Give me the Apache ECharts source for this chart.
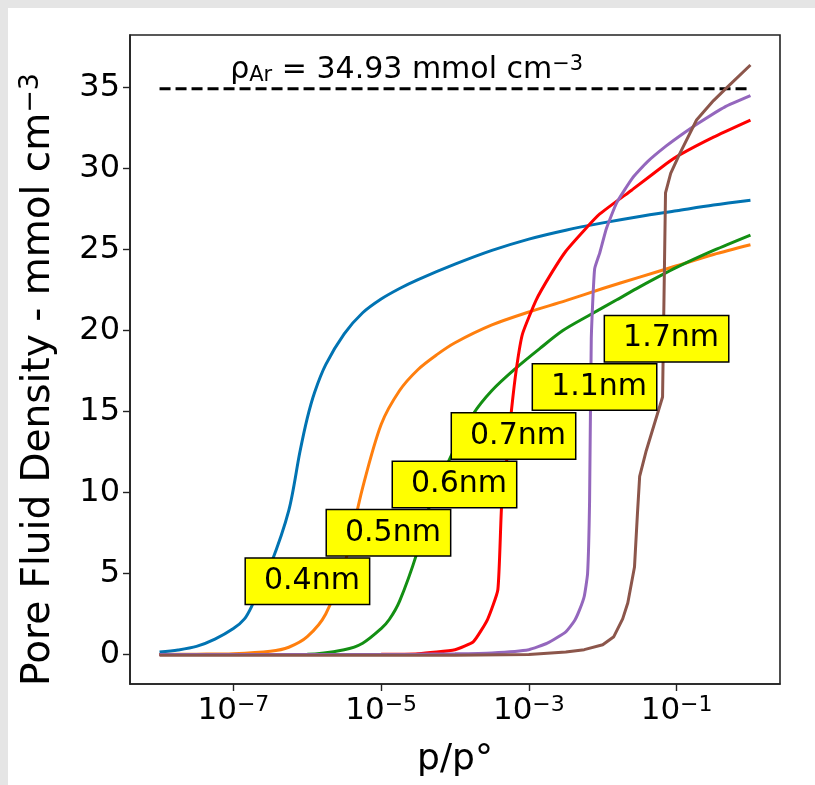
<!DOCTYPE html>
<html>
<head>
<meta charset="UTF-8">
<title>Pore Fluid Density</title>
<script src="https://cdn.jsdelivr.net/npm/echarts@6/dist/echarts.min.js"></script>
<style type="text/css">
	html, body { margin: 0; padding: 0; background: #e5e5e5; }
	#main { position: absolute; left: 8px; top: 8px; width: 807px; height: 777px; background: #fff; }
</style>
</head>
<body>
<div id="main"></div>
<script type="text/javascript">
	// x values are stored as log10(p/p°), y values in mmol cm-3
	var exp04 = [-8, -7.75, -7.5, -7.25, -7, -6.85, -6.75, -6.5, -6.25, -6.1, -6, -5.9, -5.75, -5.5, -5.25, -5, -4.75, -4.5, -4, -3.5, -3, -2.5, -2, -1.5, -1, -0.5, 0]
	var rho04 = [0.15, 0.28, 0.5, 0.95, 1.6, 2.2, 3.0, 5.5, 8.9, 12.5, 14.6, 16.2, 17.9, 19.8, 21.1, 21.95, 22.6, 23.15, 24.1, 24.95, 25.65, 26.2, 26.65, 27.05, 27.4, 27.75, 28.05]

	var exp05 = [-8, -7.5, -7, -6.5, -6.25, -6, -5.75, -5.5, -5.25, -5, -4.75, -4.5, -4.25, -4, -3.5, -3, -2.5, -2, -1.5, -1, -0.5, 0]
	var rho05 = [0, 0.02, 0.05, 0.2, 0.45, 1.1, 2.5, 5.5, 10.3, 14.2, 16.3, 17.6, 18.5, 19.25, 20.35, 21.15, 21.85, 22.6, 23.3, 24.0, 24.7, 25.3]

	var exp06 = [-8, -6, -5.5, -5.25, -5, -4.89, -4.75, -4.52, -4.35, -4.07, -3.76, -3.5, -3.17, -2.85, -2.54, -2.2, -1.81, -1.5, -1, -0.5, 0]
	var rho06 = [0, 0.02, 0.3, 0.7, 1.6, 2.16, 3.3, 6.2, 9.1, 12.1, 14.8, 16.3, 17.7, 18.9, 20.0, 20.9, 21.9, 22.7, 23.9, 24.95, 25.9]

	var exp07 = [-8, -5, -4.5, -4, -3.75, -3.56, -3.42, -3.37, -3.3, -3.235, -3.167, -3.086, -2.9, -2.7, -2.5, -2.25, -2.04, -1.6, -1.14, -0.96, -0.5, 0]
	var rho07 = [0, 0.01, 0.05, 0.3, 0.8, 2.16, 4.0, 9.1, 12.0, 15.1, 17.7, 19.8, 21.9, 23.5, 24.9, 26.2, 27.2, 28.7, 30.3, 30.85, 31.95, 33.0]

	var exp11 = [-8, -6, -4.5, -4, -3.5, -3, -2.75, -2.5, -2.38, -2.31, -2.25, -2.205, -2.178, -2.155, -2.11, -2.04, -1.95, -1.81, -1.6, -1.4, -1.14, -0.9, -0.69, -0.35, 0]
	var rho11 = [0, 0, 0.02, 0.04, 0.1, 0.3, 0.7, 1.4, 2.1, 2.8, 3.6, 5.0, 9.5, 19.5, 23.8, 24.8, 26.3, 27.9, 29.4, 30.4, 31.4, 32.2, 32.85, 33.8, 34.5]

	var exp17 = [-8, -4, -3, -2.5, -2.25, -2, -1.85, -1.73, -1.66, -1.57, -1.53, -1.5, -1.41, -1.19, -1.15, -1.08, -0.96, -0.73, -0.5, -0.32, 0]
	var rho17 = [-0.05, -0.05, 0, 0.15, 0.3, 0.6, 1.1, 2.2, 3.2, 5.4, 8.7, 11.0, 12.6, 15.9, 28.5, 29.7, 30.9, 33.0, 34.2, 35.0, 36.4]

	var seriesNames = ['0.4nm', '0.5nm', '0.6nm', '0.7nm', '1.1nm', '1.7nm']
	var seriesColors = ['#0173b2', '#ff7f0e', '#138f13', '#ff0000', '#9467bd', '#8c564b']
	var seriesExp = [exp04, exp05, exp06, exp07, exp11, exp17]
	var seriesRho = [rho04, rho05, rho06, rho07, rho11, rho17]
	var seriesSmooth = [0.3, 0.3, 0.3, 0.15, 0.15, 0]

	// label boxes: left edge (log10 p/p°) and vertical centre (mmol cm-3)
	var labelExp = [-6.837, -5.74, -4.846, -4.047, -2.95, -1.975]
	var labelRho = [4.53, 7.52, 10.5, 13.49, 16.51, 19.5]

	var bulkRho = 34.93
	var bulkExp = [-8, 0]
	var bulkTextPos = [-7.05, 36.1]

	var xTicks = [-7, -5, -3, -1]
	var yTicks = [0, 5, 10, 15, 20, 25, 30, 35]

	function p(e) { return Math.pow(10, e) }

	var font = 'DejaVu Sans'
	var series = []

	series.push({
		type: 'line',
		data: bulkExp.map(function (e) { return [p(e), bulkRho] }),
		symbol: 'none',
		lineStyle: { color: '#000', width: 3, type: [11, 5] },
		silent: true,
		z: 1
	})

	seriesNames.forEach(function (name, i) {
		series.push({
			name: name,
			type: 'line',
			data: seriesExp[i].map(function (e, j) { return [p(e), seriesRho[i][j]] }),
			symbol: 'none',
			smooth: seriesSmooth[i],
			lineStyle: { color: seriesColors[i], width: 3 },
			silent: true,
			z: 2 + i
		})
	})

	series.push({
		type: 'scatter',
		symbolSize: 1,
		itemStyle: { color: 'rgba(0,0,0,0)', opacity: 1 },
		silent: true,
		z: 20,
		data: seriesNames.map(function (name, i) {
			return { name: name, value: [p(labelExp[i]), labelRho[i]] }
		}),
		label: {
			show: true,
			position: 'right',
			distance: 0,
			formatter: '{b}',
			fontFamily: font,
			fontSize: 30,
			lineHeight: 31,
			color: '#000',
			backgroundColor: '#ffff00',
			borderColor: '#000',
			borderWidth: 1.5,
			padding: [7, 9, 7, 18]
		}
	})

	series.push({
		type: 'scatter',
		symbolSize: 1,
		itemStyle: { color: 'rgba(0,0,0,0)', opacity: 1 },
		silent: true,
		z: 21,
		data: [{ value: [p(bulkTextPos[0]), bulkTextPos[1]] }],
		label: {
			show: true,
			position: 'right',
			distance: 0,
			formatter: '{g|ρ}{sub|Ar}{t| = ' + bulkRho + ' mmol cm}{sup|−3}',
			rich: {
				g: { fontFamily: font, fontSize: 30, color: '#000', lineHeight: 32 },
				sub: { fontFamily: font, fontSize: 21, color: '#000', verticalAlign: 'bottom', lineHeight: 22 },
				t: { fontFamily: font, fontSize: 30, color: '#000', lineHeight: 32 },
				sup: { fontFamily: font, fontSize: 21, color: '#000', verticalAlign: 'top', lineHeight: 16 }
			}
		}
	})

	var myChart = echarts.init(document.getElementById('main'))
	var option = {
		animation: false,
		grid: {
			left: 122, right: 35, top: 27, bottom: 101,
			show: true, borderColor: '#222', borderWidth: 1.6, backgroundColor: 'transparent'
		},
		xAxis: {
			type: 'log',
			logBase: 10,
			min: p(-8.4),
			max: p(0.4),
			name: 'p/p°',
			nameLocation: 'middle',
			nameGap: 58,
			nameTextStyle: { fontFamily: font, fontSize: 36, color: '#000' },
			axisLine: { onZero: false, lineStyle: { color: '#222', width: 1.6 } },
			axisTick: { customValues: xTicks.map(p), length: 7, lineStyle: { color: '#222', width: 1.4 } },
			axisLabel: {
				customValues: xTicks.map(p),
				margin: 10,
				formatter: function (v) {
					var e = Math.round(Math.log10(v))
					return '{b|10}{s|−' + Math.abs(e) + '}'
				},
				rich: {
					b: { fontFamily: font, fontSize: 31, color: '#000', lineHeight: 34 },
					s: { fontFamily: font, fontSize: 22, color: '#000', verticalAlign: 'top', lineHeight: 18 }
				}
			},
			splitLine: { show: false },
			minorTick: { show: false }
		},
		yAxis: {
			type: 'value',
			min: -1.82,
			max: 38.25,
			name: '{n|Pore Fluid Density - mmol cm}{s|−3}',
			nameLocation: 'middle',
			nameGap: 70,
			nameTextStyle: {
				padding: [0, 40, 0, 0],
				rich: {
					n: { fontFamily: font, fontSize: 39, color: '#000', lineHeight: 43 },
					s: { fontFamily: font, fontSize: 27, color: '#000', verticalAlign: 'top', lineHeight: 22 }
				}
			},
			axisLine: { show: true, onZero: false, lineStyle: { color: '#222', width: 1.6 } },
			axisTick: { show: true, customValues: yTicks, length: 7, lineStyle: { color: '#222', width: 1.4 } },
			axisLabel: {
				customValues: yTicks,
				margin: 10,
				fontFamily: font,
				fontSize: 32,
				color: '#000'
			},
			splitLine: { show: false }
		},
		series: series
	}
	myChart.setOption(option)
</script>
</body>
</html>
